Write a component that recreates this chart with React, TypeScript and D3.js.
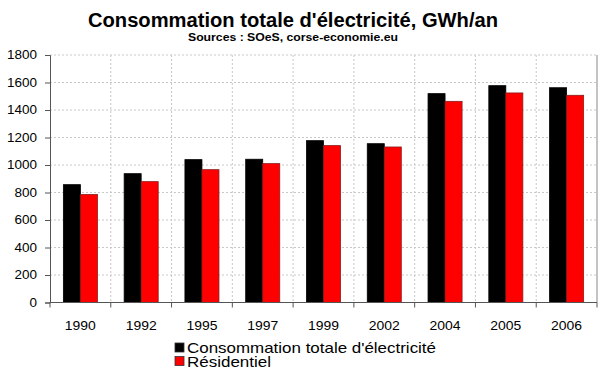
import React, { useEffect, useRef } from "react";
import * as d3 from "d3";

const years = ["1990", "1992", "1995", "1997", "1999", "2002", "2004", "2005", "2006"];
const totalValues = [857, 937, 1039, 1042, 1177, 1155, 1519, 1577, 1562];
const residentialValues = [785, 879, 966, 1010, 1141, 1131, 1463, 1524, 1507];
const yTicks = [0, 200, 400, 600, 800, 1000, 1200, 1400, 1600, 1800];
const seriesNames = ["Consommation totale d'électricité", "Résidentiel"];
const seriesColors = ["#000000", "#ff0000"];

export default function App() {
  const ref = useRef<SVGSVGElement | null>(null);

  useEffect(() => {
    if (!ref.current) return;
    const svg = d3.select(ref.current);
    svg.selectAll("*").remove();

    const width = 600;
    const height = 372;
    const left = 50;
    const right = 597;
    const top = 55;
    const bottom = 302.5;
    const font = "Liberation Sans, Arial, sans-serif";

    svg.append("rect").attr("width", width).attr("height", height).attr("fill", "#fff");

    const x = d3.scaleBand<string>().domain(years).range([left, right]);
    const y = d3.scaleLinear().domain([0, 1800]).range([bottom, top]);

    // grid
    const grid = svg.append("g").attr("stroke", "#c8c8c8").attr("stroke-dasharray", "2,2");
    grid
      .selectAll("line.h")
      .data(yTicks.filter((t) => t > 0))
      .join("line")
      .attr("x1", left)
      .attr("x2", right)
      .attr("y1", (d) => y(d))
      .attr("y2", (d) => y(d));
    grid
      .selectAll("line.v")
      .data(years.slice(1))
      .join("line")
      .attr("x1", (d) => x(d)!)
      .attr("x2", (d) => x(d)!)
      .attr("y1", top)
      .attr("y2", bottom);

    // right border
    svg
      .append("line")
      .attr("x1", right)
      .attr("x2", right)
      .attr("y1", top)
      .attr("y2", bottom)
      .attr("stroke", "#888");

    // bars
    const bw = x.bandwidth() * 0.28;
    const series = [totalValues, residentialValues];
    series.forEach((vals, si) => {
      svg
        .append("g")
        .selectAll("rect")
        .data(vals)
        .join("rect")
        .attr("x", (d, i) => x(years[i])! + x.bandwidth() / 2 - bw + si * bw)
        .attr("y", (d) => y(d))
        .attr("width", bw)
        .attr("height", (d) => bottom - y(d))
        .attr("fill", seriesColors[si])
        .attr("stroke", si === 0 ? "#000" : "#8a1a1a")
        .attr("stroke-width", 0.8);
    });

    // axes
    const yAxis = svg
      .append("g")
      .attr("transform", `translate(${left},0)`)
      .call(d3.axisLeft(y).tickValues(yTicks).tickSize(5).tickPadding(8).tickFormat(d3.format("d")));
    yAxis.select(".domain").attr("stroke", "#555");
    yAxis.selectAll(".tick line").attr("stroke", "#555");
    yAxis
      .selectAll<SVGTextElement, number>("text")
      .attr("font-family", font)
      .attr("font-size", 12)
      .attr("fill", "#000")
      .attr("textLength", (d) => String(d).length * 7.5)
      .attr("lengthAdjust", "spacingAndGlyphs");

    const xAxis = svg.append("g").attr("transform", `translate(0,${bottom})`);
    xAxis
      .append("line")
      .attr("x1", left)
      .attr("x2", right)
      .attr("stroke", "#555");
    xAxis
      .selectAll("line.tk")
      .data([...years, "end"])
      .join("line")
      .attr("x1", (d, i) => left + i * x.step())
      .attr("x2", (d, i) => left + i * x.step())
      .attr("y1", 0)
      .attr("y2", 5)
      .attr("stroke", "#555");
    xAxis
      .selectAll("text")
      .data(years)
      .join("text")
      .attr("x", (d) => x(d)! + x.bandwidth() / 2)
      .attr("y", 27.5)
      .attr("text-anchor", "middle")
      .attr("font-family", font)
      .attr("font-size", 13)
      .attr("textLength", 31)
      .attr("lengthAdjust", "spacingAndGlyphs")
      .text((d) => d);

    // titles
    svg
      .append("text")
      .attr("x", 293)
      .attr("y", 26.5)
      .attr("text-anchor", "middle")
      .attr("font-family", font)
      .attr("font-weight", "bold")
      .attr("font-size", 19.5)
      .attr("textLength", 410)
      .attr("lengthAdjust", "spacingAndGlyphs")
      .text("Consommation totale d'électricité, GWh/an");
    svg
      .append("text")
      .attr("x", 293)
      .attr("y", 41)
      .attr("text-anchor", "middle")
      .attr("font-family", font)
      .attr("font-weight", "bold")
      .attr("font-size", 10.5)
      .attr("textLength", 210)
      .attr("lengthAdjust", "spacingAndGlyphs")
      .text("Sources : SOeS, corse-economie.eu");

    // legend
    const legendWidths = [249, 84];
    const legend = svg.append("g");
    seriesNames.forEach((name, i) => {
      const ly = 353 + i * 13.5;
      legend
        .append("rect")
        .attr("x", 175)
        .attr("y", ly - 10)
        .attr("width", 9)
        .attr("height", 9)
        .attr("fill", seriesColors[i])
        .attr("stroke", "#333")
        .attr("stroke-width", 0.8);
      legend
        .append("text")
        .attr("x", 187)
        .attr("y", ly)
        .attr("font-family", font)
        .attr("font-size", 14.5)
        .attr("textLength", legendWidths[i])
        .attr("lengthAdjust", "spacingAndGlyphs")
        .text(name);
    });
  }, []);

  return (
    <svg
      ref={ref}
      width={600}
      height={372}
      style={{ display: "block", position: "absolute", left: 0, top: 0 }}
    />
  );
}
